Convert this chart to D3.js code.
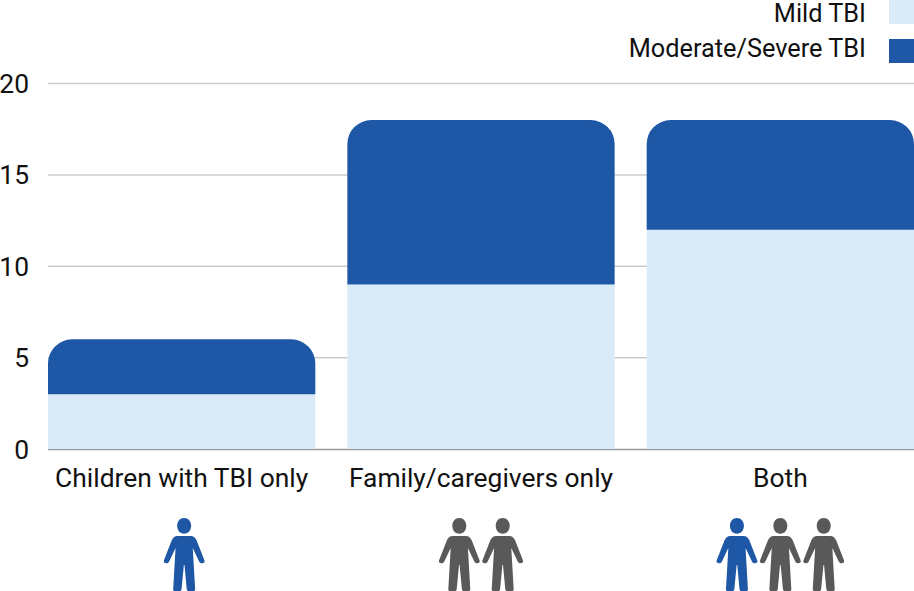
<!DOCTYPE html>
<html><head><meta charset="utf-8">
<script src="https://cdn.jsdelivr.net/npm/d3@7"></script>
<style>html,body{margin:0;padding:0;background:#fff}svg{display:block}text{font-family:Roboto,sans-serif;fill:#111}</style>
</head><body><div id="c"></div>
<script>
const categories = ["Children with TBI only", "Family/caregivers only", "Both"];
const seriesNames = ["Mild TBI", "Moderate/Severe TBI"];
const mild = [3, 9, 12];
const moderateSevere = [3, 9, 6];
const yTicks = [0, 5, 10, 15, 20];
const iconGroups = [["child"], ["family", "family"], ["child", "family", "family"]];
const colors = ["#d9eaf9", "#1d57a5"];
const iconColors = {child: "#1d57a5", family: "#595959"};

const W = 914, H = 591;
const svg = d3.select("#c").append("svg").attr("width", W).attr("height", H);
const x = d3.scaleBand().domain(categories).range([48, 914]).paddingInner(0.107).paddingOuter(0);
const y = d3.scaleLinear().domain([0, 20]).range([449, 83.5]);
const FS = 26.4, LFS = 25.3, R = 24;

// gridlines
svg.append("g").selectAll("line").data(yTicks.filter(d => d > 0)).join("line")
  .attr("x1", 48).attr("x2", W).attr("y1", d => y(d)).attr("y2", d => y(d))
  .attr("stroke", "#cccccc").attr("stroke-width", 1.5);
svg.append("line").attr("x1", 48).attr("x2", W).attr("y1", y(0) + .5).attr("y2", y(0) + .5)
  .attr("stroke", "#9a9a9a").attr("stroke-width", 1.5);

// y tick labels
svg.append("g").selectAll("text").data(yTicks).join("text")
  .attr("x", 29).attr("y", d => y(d) + 9.5).attr("text-anchor", "end")
  .attr("font-size", FS).text(d => d);

// bars
const rows = categories.map((c, i) => ({c, a: mild[i], b: moderateSevere[i]}));
svg.append("g").selectAll("rect").data(rows).join("rect")
  .attr("x", d => x(d.c)).attr("width", x.bandwidth())
  .attr("y", d => y(d.a)).attr("height", d => y(0) - y(d.a))
  .attr("fill", colors[0]);
svg.append("g").selectAll("path").data(rows).join("path")
  .attr("fill", colors[1])
  .attr("d", d => {
    const l = x(d.c), r = l + x.bandwidth(), t = y(d.a + d.b), b = y(d.a);
    return `M${l},${b}V${t + R}A${R},${R} 0 0 1 ${l + R},${t}H${r - R}A${R},${R} 0 0 1 ${r},${t + R}V${b}Z`;
  });

// category labels
svg.append("g").selectAll("text").data(categories).join("text")
  .attr("x", d => x(d) + x.bandwidth() / 2).attr("y", 487).attr("text-anchor", "middle")
  .attr("font-size", FS).text(d => d);

// legend
const legendTextY = [22, 57], legendBoxY = [0, 39];
seriesNames.forEach((s, i) => {
  svg.append("text").attr("x", 866).attr("y", legendTextY[i]).attr("text-anchor", "end")
    .attr("font-size", LFS).text(s);
  svg.append("rect").attr("x", 889).attr("y", legendBoxY[i]).attr("width", 25).attr("height", 24)
    .attr("fill", colors[i]);
});

// person icons
const personPath = "M0,0C4.2,0 7,3.4 7,7.8C7,12.2 4.2,15.8 0,15.8C-4.2,15.8 -7,12.2 -7,7.8C-7,3.4 -4.2,0 0,0Z" +
  "M-6.5,18H6.5C9.5,18 11.3,20 12.5,22.5L20.3,42.5C20.8,44.2 19.8,45.2 17.8,45.2C16.5,45.2 15.5,44.6 15,43.4L8.6,30L11,71.5C11.1,72.5 10.1,73 8.6,73H4.6C3.4,73 2.8,72.4 2.6,71.2L0.3,47H-0.3L-2.6,71.2C-2.8,72.4 -3.4,73 -4.6,73H-8.6C-10.1,73 -11.1,72.5 -11,71.5L-8.6,30L-15,43.4C-15.5,44.6 -16.5,45.2 -17.8,45.2C-19.8,45.2 -20.8,44.2 -20.3,42.5L-12.5,22.5C-11.3,20 -9.5,18 -6.5,18Z";
const iconNudge = [2.5, 0, 0], iconStep = 43.4;
iconGroups.forEach((g, i) => {
  const cx = x(categories[i]) + x.bandwidth() / 2 + iconNudge[i];
  svg.append("g").selectAll("path").data(g).join("path")
    .attr("d", personPath).attr("fill", d => iconColors[d])
    .attr("transform", (d, j) => `translate(${cx + (j - (g.length - 1) / 2) * iconStep},518)`);
});
</script></body></html>
